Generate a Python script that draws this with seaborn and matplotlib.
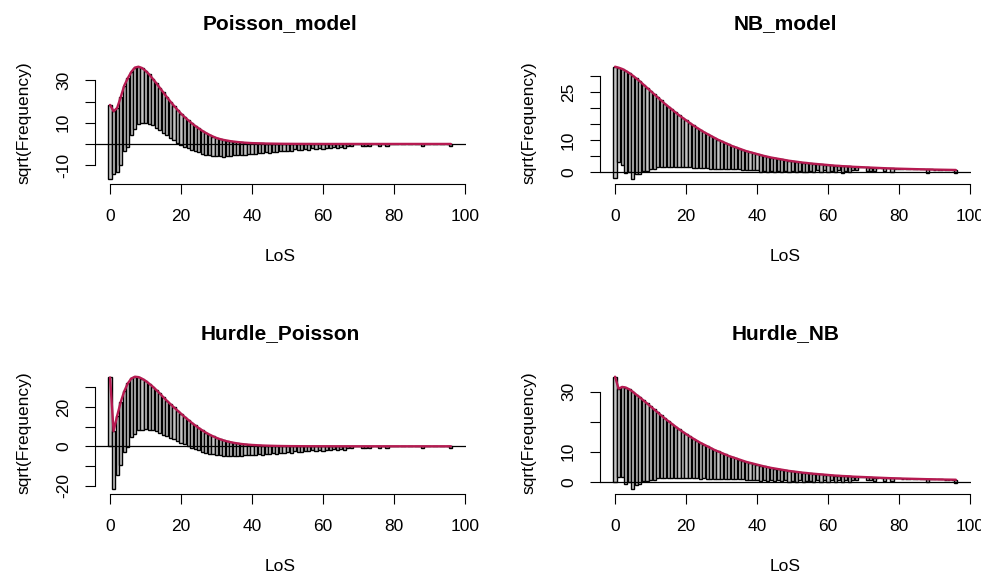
import numpy as np
import matplotlib
matplotlib.use("Agg")
import matplotlib.pyplot as plt
import seaborn as sns

# length of stay 0..96 days
los = np.arange(97)

# observed frequencies (shared by all four models)
observed = [
    1225, 870, 900, 1024, 961, 1056, 900, 841, 729, 676,
    600, 552, 484, 441, 400, 361, 324, 296, 266, 240,
    219, 196, 177, 159, 144, 128, 117, 106, 94, 83,
    74, 67, 61, 53, 48, 42, 38, 35, 31, 28,
    26, 27, 21, 22, 17, 18, 14, 15, 11, 13,
    10, 11, 7, 9, 8, 6, 7, 4, 6, 3,
    5, 3, 4, 2, 4, 2, 3, 1, 1, 0,
    0, 1, 1, 1, 0, 0, 1, 0, 1, 0,
    0, 0, 0, 0, 0, 0, 0, 0, 1, 0,
    0, 0, 0, 0, 0, 0, 1,
]

# expected sqrt(Frequency) for each fitted model
poisson_exp = [
    18.4, 15.4, 17.0, 22.0, 27.5, 31.0, 34.0, 36.0, 36.4, 35.8,
    34.5, 32.8, 30.8, 28.7, 26.5, 24.3, 22.1, 20.0, 18.0, 16.1,
    14.3, 12.7, 11.2, 9.8, 8.5, 7.3, 6.2, 5.2, 4.3, 3.5,
    2.8, 2.3, 1.9, 1.6, 1.3, 1.1, 0.9, 0.75, 0.6, 0.5,
    0.4, 0.35, 0.3, 0.25, 0.2, 0.18, 0.15, 0.12, 0.1, 0.08,
    0.07, 0.06, 0.05, 0.04, 0.04, 0.03, 0.03, 0.02, 0.02, 0.02,
    0.01, 0.01, 0.01, 0.01, 0.01, 0.01, 0.01, 0.01, 0.01, 0.01,
    0.01, 0.01, 0.01, 0.01, 0.01, 0.01, 0.01, 0.01, 0.01, 0.01,
    0.01, 0.01, 0.01, 0.01, 0.01, 0.01, 0.01, 0.01, 0.01, 0.01,
    0.01, 0.01, 0.01, 0.01, 0.01, 0.01, 0.01,
]
nb_exp = [
    33.0, 32.7, 32.3, 31.7, 31.0, 30.2, 29.3, 28.4, 27.4, 26.4,
    25.4, 24.4, 23.4, 22.4, 21.4, 20.5, 19.6, 18.7, 17.8, 17.0,
    16.2, 15.4, 14.6, 13.9, 13.2, 12.5, 11.9, 11.3, 10.7, 10.1,
    9.6, 9.1, 8.6, 8.1, 7.7, 7.3, 6.9, 6.5, 6.2, 5.9,
    5.6, 5.3, 5.0, 4.75, 4.5, 4.3, 4.1, 3.9, 3.7, 3.5,
    3.35, 3.2, 3.05, 2.9, 2.8, 2.65, 2.55, 2.45, 2.35, 2.25,
    2.15, 2.05, 1.95, 1.9, 1.8, 1.75, 1.7, 1.6, 1.55, 1.5,
    1.45, 1.4, 1.35, 1.3, 1.25, 1.2, 1.15, 1.1, 1.07, 1.03,
    1.0, 0.97, 0.94, 0.91, 0.88, 0.85, 0.82, 0.8, 0.77, 0.75,
    0.72, 0.7, 0.68, 0.66, 0.64, 0.62, 0.6,
]
hurdle_poisson_exp = [
    35.0, 7.7, 15.5, 22.5, 28.0, 32.0, 34.5, 35.4, 35.2, 34.4,
    33.3, 31.9, 30.4, 28.7, 26.9, 25.0, 23.2, 21.5, 19.8, 18.2,
    16.6, 15.0, 13.5, 12.0, 10.6, 9.3, 8.1, 7.0, 6.0, 5.1,
    4.3, 3.6, 3.0, 2.5, 2.1, 1.75, 1.45, 1.2, 1.0, 0.85,
    0.7, 0.6, 0.5, 0.42, 0.35, 0.3, 0.25, 0.2, 0.17, 0.14,
    0.12, 0.1, 0.09, 0.08, 0.07, 0.06, 0.05, 0.05, 0.04, 0.04,
    0.03, 0.03, 0.03, 0.02, 0.02, 0.02, 0.02, 0.02, 0.01, 0.01,
    0.01, 0.01, 0.01, 0.01, 0.01, 0.01, 0.01, 0.01, 0.01, 0.01,
    0.01, 0.01, 0.01, 0.01, 0.01, 0.01, 0.01, 0.01, 0.01, 0.01,
    0.01, 0.01, 0.01, 0.01, 0.01, 0.01, 0.01,
]
hurdle_nb_exp = [
    35.0, 31.0, 31.6, 31.4, 30.8, 30.0, 29.0, 28.1, 27.1, 26.1,
    25.1, 24.1, 23.1, 22.1, 21.1, 20.2, 19.3, 18.4, 17.5, 16.7,
    15.9, 15.1, 14.4, 13.7, 13.0, 12.4, 11.8, 11.2, 10.6, 10.1,
    9.6, 9.1, 8.6, 8.2, 7.8, 7.4, 7.0, 6.6, 6.3, 6.0,
    5.7, 5.4, 5.1, 4.85, 4.6, 4.4, 4.2, 4.0, 3.8, 3.6,
    3.45, 3.3, 3.15, 3.0, 2.9, 2.75, 2.65, 2.55, 2.45, 2.35,
    2.25, 2.15, 2.05, 2.0, 1.9, 1.85, 1.8, 1.7, 1.65, 1.6,
    1.55, 1.5, 1.45, 1.4, 1.35, 1.3, 1.25, 1.2, 1.16, 1.12,
    1.08, 1.05, 1.02, 0.99, 0.96, 0.93, 0.9, 0.87, 0.84, 0.82,
    0.79, 0.77, 0.75, 0.72, 0.7, 0.68, 0.66,
]

titles = ["Poisson_model", "NB_model", "Hurdle_Poisson", "Hurdle_NB"]
expected = [poisson_exp, nb_exp, hurdle_poisson_exp, hurdle_nb_exp]
yticks = [[-10, 0, 10, 20, 30],
          [0, 5, 10, 15, 20, 25, 30],
          [-20, -10, 0, 10, 20, 30],
          [0, 10, 20, 30]]
ytick_labels = [["-10", "", "10", "", "30"],
                ["0", "", "10", "", "", "25", ""],
                ["-20", "", "0", "", "20", ""],
                ["0", "10", "", "30"]]

sns.set_style("white")
plt.rcParams['font.family'] = ['Liberation Sans', 'DejaVu Sans']
plt.rcParams['text.color'] = 'black'
plt.rcParams['axes.labelcolor'] = 'black'
plt.rcParams['axes.titlecolor'] = 'black'

W, H = 981, 574
fig = plt.figure(figsize=(W / 100, H / 100), dpi=100)

# plot regions in pixels (left, top) ; each 372 x 121.5
origins = [(94.5, 62.2), (599.5, 62.2), (94.5, 372.2), (599.5, 372.2)]
pw, ph = 371.9, 121.5

obs_sqrt = np.sqrt(np.array(observed, dtype=float))

for i in range(4):
    x0, y0 = origins[i]
    ax = fig.add_axes([x0 / W, 1 - (y0 + ph) / H, pw / W, ph / H])
    top = np.array(expected[i])
    bottom = top - obs_sqrt

    ax.bar(los, obs_sqrt, bottom=bottom, width=0.9, color="#C4C4C4",
           edgecolor="black", linewidth=1.0, zorder=2)
    ax.axhline(0, color="black", lw=0.9, zorder=3)
    sns.lineplot(x=los, y=top, ax=ax, color="#B61A51", lw=1.7, zorder=4)

    lo = min(bottom.min(), 0)
    hi = top.max()
    pad = 0.04 * (hi - lo)
    ax.set_ylim(lo - pad, hi + pad)
    ax.set_xlim(-0.5 - 0.04 * 97, 96.5 + 0.04 * 97)

    for s in ["top", "right"]:
        ax.spines[s].set_visible(False)
    ax.spines["left"].set_bounds(yticks[i][0], yticks[i][-1])
    ax.spines["bottom"].set_bounds(0, 100)
    for s in ["left", "bottom"]:
        ax.spines[s].set_linewidth(0.8)
        ax.spines[s].set_color("black")

    ax.set_xticks([0, 20, 40, 60, 80, 100])
    ax.set_yticks(yticks[i])
    ax.set_yticklabels(ytick_labels[i], rotation=90, va="center")
    ax.tick_params(axis="both", direction="out", length=7, width=0.8,
                   labelsize=12.5, colors="black", left=True, bottom=True)
    ax.tick_params(axis="x", pad=11)
    ax.tick_params(axis="y", pad=10)

    ax.set_title(titles[i], fontsize=15, fontweight="bold", pad=24)
    ax.set_xlabel("LoS", fontsize=12.5)
    ax.set_ylabel("sqrt(Frequency)", fontsize=12.5)
    ax.xaxis.set_label_coords(0.5, -0.535)
    ax.yaxis.set_label_coords(-0.17, 0.5)

fig.savefig("out.png", dpi=100)
